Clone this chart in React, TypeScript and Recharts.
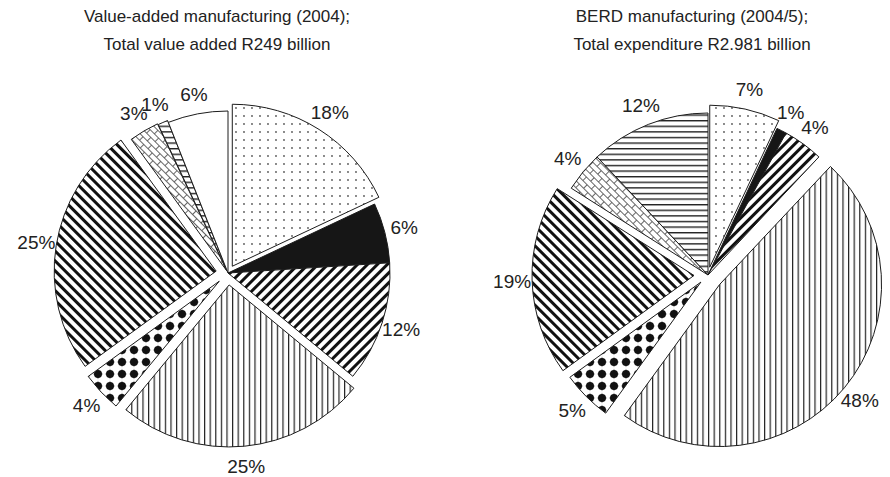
import React from 'react';
import { PieChart, Pie, Cell, Sector } from 'recharts';

// ---- data ----
const SECTORS = ['Dotted', 'Solid', 'HatchUp', 'Vertical', 'Checker', 'HatchDown', 'Brick', 'Horizontal', 'Blank'];
const VALUE_ADDED_2004 = [18, 6, 12, 25, 4, 25, 3, 1, 6];
const BERD_2004_5 = [7, 1, 4, 48, 5, 19, 4, 12, 0];
const LEFT_TITLE = ['Value-added manufacturing (2004);', 'Total value added R249 billion'];
const RIGHT_TITLE = ['BERD manufacturing (2004/5);', 'Total expenditure R2.981 billion'];

// ---- styling ----
const FILLS: Record<string, string> = {
  Dotted: 'url(#p-dots)',
  Solid: '#161616',
  HatchUp: 'url(#p-up)',
  Vertical: 'url(#p-vert)',
  Checker: 'url(#p-check)',
  HatchDown: 'url(#p-down)',
  Brick: 'url(#p-brick)',
  Horizontal: 'url(#p-horiz)',
  Blank: '#ffffff',
};

// how far each slice is pulled out of the pie
const LEFT_PULL: Record<string, number> = { Dotted: 8, Vertical: 12, Checker: 12, HatchDown: 12, Brick: 3, Horizontal: 2 };
const RIGHT_PULL: Record<string, number> = { Dotted: 8, Vertical: 15, Checker: 10, HatchDown: 14 };

const RAD = Math.PI / 180;
const FONT = 'Liberation Sans, Arial, sans-serif';

const leftData = SECTORS.map((name, i) => ({ name, value: VALUE_ADDED_2004[i] }));
const rightData = SECTORS.map((name, i) => ({ name, value: BERD_2004_5[i] }));

const keyOf = (p: any) => (p.payload && p.payload.name) || p.name;

const makeSlice = (pull: Record<string, number>) => (props: any) => {
  const { cx, cy, midAngle, value } = props;
  if (!value) return <g />;
  const d = pull[keyOf(props)] || 0;
  const dx = Math.cos(-midAngle * RAD) * d;
  const dy = Math.sin(-midAngle * RAD) * d;
  return <Sector {...props} cx={cx + dx} cy={cy + dy} stroke="#1c1c1c" strokeWidth={1} />;
};

const makeLabel = (pull: Record<string, number>) => (props: any) => {
  const { cx, cy, midAngle, outerRadius, value } = props;
  if (!value) return null;
  const r = outerRadius + (pull[keyOf(props)] || 0) + 20;
  const x = cx + r * Math.cos(-midAngle * RAD);
  const y = cy + r * Math.sin(-midAngle * RAD);
  return (
    <text x={x} y={y} textAnchor="middle" dominantBaseline="central" fill="#222" fontSize={19} fontFamily={FONT}>
      {value}%
    </text>
  );
};

const Title = ({ lines, center }: { lines: string[]; center: number }) => (
  <>
    {lines.map((t, i) => (
      <div
        key={t}
        style={{
          position: 'absolute',
          left: center - 200,
          width: 400,
          top: -1 + i * 28,
          height: 20,
          lineHeight: '20px',
          textAlign: 'center',
          fontFamily: FONT,
          fontSize: 17,
          color: '#222',
        }}
      >
        {t}
      </div>
    ))}
  </>
);

export default function App() {
  return (
    <div style={{ position: 'relative', width: 874, height: 469 }}>
      <PieChart width={874} height={469} margin={{ top: 0, right: 0, bottom: 0, left: 0 }}>
        <defs>
          <pattern id="p-dots" width="8" height="8" patternUnits="userSpaceOnUse">
            <rect width="8" height="8" fill="#fff" />
            <circle cx="4" cy="4" r="0.9" fill="#555" />
          </pattern>
          <pattern id="p-up" width="7" height="7" patternUnits="userSpaceOnUse" patternTransform="rotate(45)">
            <rect width="7" height="7" fill="#fff" />
            <rect x="0" y="0" width="3" height="7" fill="#111" />
          </pattern>
          <pattern id="p-down" width="7" height="7" patternUnits="userSpaceOnUse" patternTransform="rotate(-45)">
            <rect width="7" height="7" fill="#fff" />
            <rect x="0" y="0" width="3" height="7" fill="#111" />
          </pattern>
          <pattern id="p-vert" width="5.6" height="6" patternUnits="userSpaceOnUse">
            <rect width="5.6" height="6" fill="#fff" />
            <rect x="0" y="0" width="1.2" height="6" fill="#222" />
          </pattern>
          <pattern id="p-horiz" width="6" height="5.6" patternUnits="userSpaceOnUse">
            <rect width="6" height="5.6" fill="#fff" />
            <rect x="0" y="0" width="6" height="1.4" fill="#222" />
          </pattern>
          <pattern id="p-check" width="12" height="12" patternUnits="userSpaceOnUse">
            <rect width="12" height="12" fill="#fff" />
            <circle cx="6" cy="6" r="4" fill="#111" />
            <path d="M6 0.6 L7.2 6 L6 11.4 L4.8 6 Z M0.6 6 L6 4.8 L11.4 6 L6 7.2 Z" fill="#111" />
          </pattern>
          <pattern id="p-brick" width="12" height="10" patternUnits="userSpaceOnUse" patternTransform="rotate(45)">
            <rect width="12" height="10" fill="#fff" />
            <path d="M0 0.5 H12 M0 5.5 H12 M0.5 0.5 V5.5 M6.5 5.5 V10" stroke="#555" strokeWidth="0.9" fill="none" />
          </pattern>
        </defs>
        <Pie
          data={leftData}
          dataKey="value"
          nameKey="name"
          cx={220}
          cy={265}
          outerRadius={162}
          startAngle={90}
          endAngle={-270}
          isAnimationActive={false}
          shape={makeSlice(LEFT_PULL)}
          label={makeLabel(LEFT_PULL)}
          labelLine={false}
        >
          {leftData.map((d) => (
            <Cell key={d.name} fill={FILLS[d.name]} />
          ))}
        </Pie>
        <Pie
          data={rightData}
          dataKey="value"
          nameKey="name"
          cx={700}
          cy={267}
          outerRadius={162}
          startAngle={90}
          endAngle={-270}
          isAnimationActive={false}
          shape={makeSlice(RIGHT_PULL)}
          label={makeLabel(RIGHT_PULL)}
          labelLine={false}
        >
          {rightData.map((d) => (
            <Cell key={d.name} fill={FILLS[d.name]} />
          ))}
        </Pie>
      </PieChart>
      <Title lines={LEFT_TITLE} center={209} />
      <Title lines={RIGHT_TITLE} center={684} />
    </div>
  );
}
